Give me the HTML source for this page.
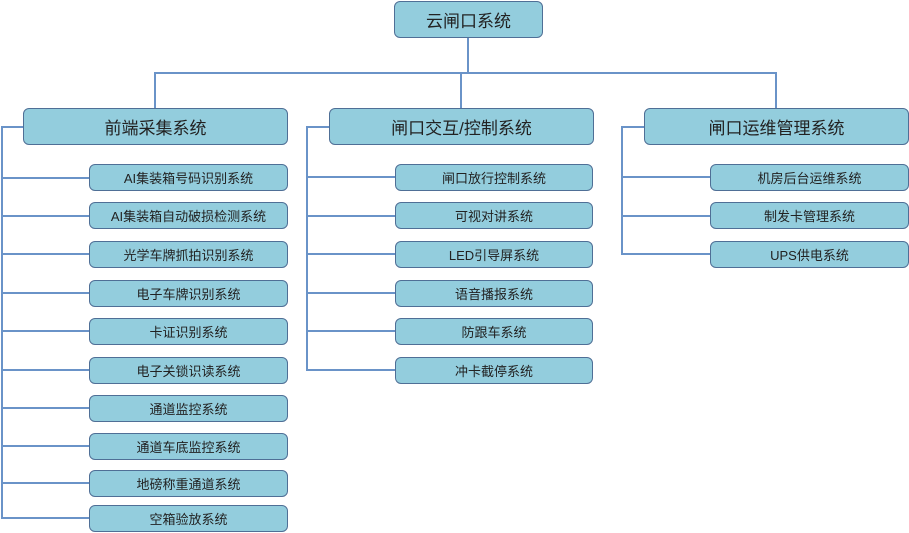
<!DOCTYPE html>
<html><head><meta charset="utf-8"><style>
body{margin:0;width:909px;height:533px;background:#fff;position:relative;overflow:hidden;font-family:"Liberation Sans","Noto Sans CJK SC",sans-serif;color:#222}
.b{position:absolute;background:#93cddd;border:1.5px solid #4f6f96;border-radius:6px;box-sizing:border-box;display:flex;align-items:center;justify-content:center;font-size:13px}
.L{font-size:17px}
.l{position:absolute;background:#6a93c8}
</style></head><body>
<div class="b L" style="left:394px;top:1px;width:149px;height:37px">云闸口系统</div>
<div class="l" style="left:467px;top:38px;width:2px;height:35px"></div>
<div class="l" style="left:154px;top:72px;width:623px;height:2px"></div>
<div class="l" style="left:154px;top:72px;width:2px;height:36px"></div>
<div class="l" style="left:460px;top:72px;width:2px;height:36px"></div>
<div class="l" style="left:775px;top:72px;width:2px;height:36px"></div>

<div class="b L" style="left:23px;top:108px;width:265px;height:37px">前端采集系统</div>
<div class="b L" style="left:329px;top:108px;width:265px;height:37px">闸口交互/控制系统</div>
<div class="b L" style="left:644px;top:108px;width:265px;height:37px">闸口运维管理系统</div>

<div class="l" style="left:1px;top:126px;width:2px;height:393px"></div>
<div class="l" style="left:1px;top:126px;width:22px;height:2px"></div>
<div class="l" style="left:306px;top:126px;width:2px;height:245px"></div>
<div class="l" style="left:306px;top:126px;width:23px;height:2px"></div>
<div class="l" style="left:621px;top:126px;width:2px;height:129px"></div>
<div class="l" style="left:621px;top:126px;width:23px;height:2px"></div>

<!-- col1 -->
<div class="l" style="left:1px;top:177px;width:88px;height:2px"></div><div class="b" style="left:89px;top:164px;width:199px;height:27px">AI集装箱号码识别系统</div>
<div class="l" style="left:1px;top:215px;width:88px;height:2px"></div><div class="b" style="left:89px;top:202px;width:199px;height:27px">AI集装箱自动破损检测系统</div>
<div class="l" style="left:1px;top:253px;width:88px;height:2px"></div><div class="b" style="left:89px;top:241px;width:199px;height:27px">光学车牌抓拍识别系统</div>
<div class="l" style="left:1px;top:292px;width:88px;height:2px"></div><div class="b" style="left:89px;top:280px;width:199px;height:27px">电子车牌识别系统</div>
<div class="l" style="left:1px;top:330px;width:88px;height:2px"></div><div class="b" style="left:89px;top:318px;width:199px;height:27px">卡证识别系统</div>
<div class="l" style="left:1px;top:369px;width:88px;height:2px"></div><div class="b" style="left:89px;top:357px;width:199px;height:27px">电子关锁识读系统</div>
<div class="l" style="left:1px;top:407px;width:88px;height:2px"></div><div class="b" style="left:89px;top:395px;width:199px;height:27px">通道监控系统</div>
<div class="l" style="left:1px;top:445px;width:88px;height:2px"></div><div class="b" style="left:89px;top:433px;width:199px;height:27px">通道车底监控系统</div>
<div class="l" style="left:1px;top:482px;width:88px;height:2px"></div><div class="b" style="left:89px;top:470px;width:199px;height:27px">地磅称重通道系统</div>
<div class="l" style="left:1px;top:517px;width:88px;height:2px"></div><div class="b" style="left:89px;top:505px;width:199px;height:27px">空箱验放系统</div>

<!-- col2 -->
<div class="l" style="left:306px;top:176px;width:89px;height:2px"></div><div class="b" style="left:395px;top:164px;width:198px;height:27px">闸口放行控制系统</div>
<div class="l" style="left:306px;top:215px;width:89px;height:2px"></div><div class="b" style="left:395px;top:202px;width:198px;height:27px">可视对讲系统</div>
<div class="l" style="left:306px;top:253px;width:89px;height:2px"></div><div class="b" style="left:395px;top:241px;width:198px;height:27px">LED引导屏系统</div>
<div class="l" style="left:306px;top:292px;width:89px;height:2px"></div><div class="b" style="left:395px;top:280px;width:198px;height:27px">语音播报系统</div>
<div class="l" style="left:306px;top:330px;width:89px;height:2px"></div><div class="b" style="left:395px;top:318px;width:198px;height:27px">防跟车系统</div>
<div class="l" style="left:306px;top:369px;width:89px;height:2px"></div><div class="b" style="left:395px;top:357px;width:198px;height:27px">冲卡截停系统</div>

<!-- col3 -->
<div class="l" style="left:621px;top:176px;width:89px;height:2px"></div><div class="b" style="left:710px;top:164px;width:199px;height:27px">机房后台运维系统</div>
<div class="l" style="left:621px;top:215px;width:89px;height:2px"></div><div class="b" style="left:710px;top:202px;width:199px;height:27px">制发卡管理系统</div>
<div class="l" style="left:621px;top:253px;width:89px;height:2px"></div><div class="b" style="left:710px;top:241px;width:199px;height:27px">UPS供电系统</div>
</body></html>
